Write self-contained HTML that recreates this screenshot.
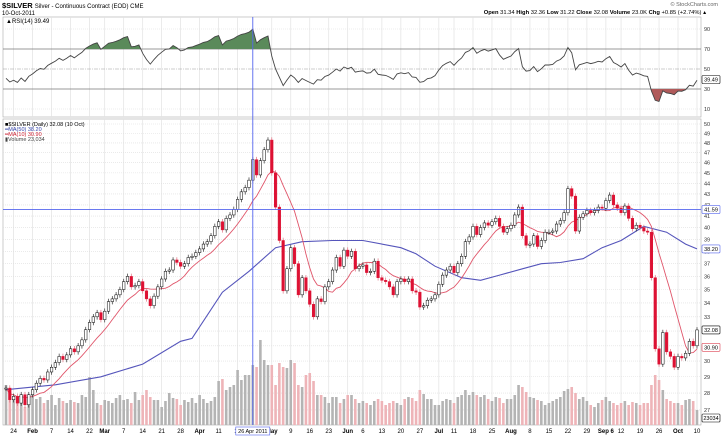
<!DOCTYPE html>
<html><head><meta charset="utf-8"><style>
html,body{margin:0;padding:0;background:#fff;}
svg{display:block;font-family:"Liberation Sans",sans-serif;}
</style></head><body>
<svg id="chart" width="721" height="436" viewBox="0 0 721 436" xmlns="http://www.w3.org/2000/svg">
<text x="2" y="8" font-size="7.5" font-weight="bold" fill="#000">$SILVER <tspan font-weight="normal" font-size="6">Silver - Continuous Contract (EOD) CME</tspan></text>
<text x="2" y="15" font-size="6" fill="#000">10-Oct-2011</text>
<text x="718" y="6" font-size="5.5" fill="#666" text-anchor="end">© StockCharts.com</text>
<text x="706" y="14" font-size="5.8" fill="#000" text-anchor="end"><tspan font-weight="bold">Open</tspan> 31.34 <tspan font-weight="bold">High</tspan> 32.36 <tspan font-weight="bold">Low</tspan> 31.22 <tspan font-weight="bold">Close</tspan> 32.08 <tspan font-weight="bold">Volume</tspan> 23.0K <tspan font-weight="bold">Chg</tspan> +0.85 (+2.74%) ▴</text>
<g id="rsiG"></g>
<g id="priceG"></g>
</svg>
<script>
const closes=[28.3,27.6,
27.8,27.4,27.9,27.3,27.9, 28.2,28.6,28.9,28.8,29.3, 29.6,29.9,30.3,30.1,30.4, 30.8,30.6,31.0,31.4,32.1, 32.6,33.0,33.3,32.8,
33.4,34.1,34.3,34.6,35.0, 35.6,36.0,35.2,35.3,35.6, 34.9,34.3,33.8,34.5,35.2, 35.8,36.4,36.5,37.3,37.1, 36.8,37.0,37.5,37.6,37.9,
38.2,38.6,38.8,39.3,40.1, 40.5,39.8,40.8,41.1,41.6, 42.5,43.2,43.6,44.3, 46.3,44.8,46.2,47.3,48.3,
45.0,41.8,38.9,34.9,36.6, 38.3,37.0,34.6,35.9,34.9, 33.9,33.0,34.3,34.1,35.2, 35.6,36.5,37.5,36.8,38.1, 37.6,38.0,36.6,36.8,
36.9,36.3,36.4,37.2,35.9, 35.7,35.6,35.2,34.6,35.6, 35.8,35.6,35.8,34.9,34.8, 33.7,33.8,34.2,34.3,34.6,
35.4,36.1,36.5,36.8, 36.3,37.0,37.6,38.8,39.2, 40.1,39.4,40.0,40.4,40.2, 40.5,40.8,40.1,39.6,39.9,
40.2,41.1,41.8,39.3,38.5, 38.6,39.3,38.4,38.9,39.6, 39.6,39.7,40.3,40.6,41.3, 43.5,42.8,39.7,40.9,41.2, 41.5,41.3,41.5,41.8,41.7,
42.4,42.9,42.0,41.7, 41.3,41.9,40.8,39.9,40.2, 40.0,39.7,39.6,35.9,30.8, 29.8,31.9,30.6,30.3,29.6, 30.3,30.2,30.5,31.3,31.0, 32.08];
const volumes=[40,30, 26,22,25,18,25, 30,26,28,22,25, 30,20,27,24,22, 25,23,22,30,28, 48,35,22,20,
25,24,22,27,30, 25,26,22,33,25, 30,35,28,25,25, 18,24,32,27,26, 20,25,23,27,22,
30,26,22,24,28, 44,46,35,38,40, 55,45,50,50, 60,58,85,65,60,
60,40,62,58,57, 65,62,40,38,50, 52,44,30,30,28, 22,28,28,22,26, 30,30,26,22,
24,22,20,24,26, 24,20,22,24,22, 20,26,28,27,24, 35,31,26,26,20,
20,24,26,25, 22,28,30,35,30, 33,30,28,30,26, 24,28,27,22,26,
26,30,40,38,33, 28,27,25,24,20, 22,24,26,28,34, 36,38,32,26,28, 24,20,18,22,25,
28,24,22,20, 22,24,20,23,22, 20,22,22,40,50, 45,35,26,24,22, 22,20,25,26,24, 15];
const ma50Idx=[0,13,25,36,46,49,57,64,71,78,86,94,104,108,113,120,125,130,136,141,146,152,157,162,166,168,174,179,182];
const ma50Val=[28.2,28.5,29.0,29.8,31.3,31.5,34.8,36.4,38.3,38.8,38.9,38.9,38.3,37.8,36.8,35.9,35.7,36.1,36.6,37.0,37.1,37.4,38.3,38.9,39.7,40.1,39.6,38.6,38.2];
const priceTicks=[27,28,29,30,31,32,33,34,35,36,37,38,39,40,41,42,43,44,45,46,47,48,49,50];
const rsiTicks=[90,70,50,30,10];
const dateLabels=["24","Feb","7","14","22","Mar","7","14","21","28","Apr","11","18","May","9","16","23","Jun","6","13","20","27","Jul","11","18","25","Aug","8","15","22","29","Sep 6","12","19","26","Oct","10"];
const dateIdx=[2,7,12,17,22,26,31,36,41,46,51,56,61,70,75,80,85,90,94,99,104,109,114,118,123,128,133,138,143,148,153,158,162,167,172,177,182];
const markerIdx=65, hLineVal=41.59;
const rsiSeedGain=0.22, rsiSeedLoss=0.32;

const NS="http://www.w3.org/2000/svg";
const X0=6,X1=697,N=closes.length;
const xs=i=>X0+i*(X1-X0)/(N-1);
const yp=v=>124+464*Math.log(50/v);
const yr=v=>119-v;
const yv=v=>425-v;
const PL=3,PR=701,PT=119,PB=425,RT=17,RB=117;
function el(tag,attrs,parent){const e=document.createElementNS(NS,tag);for(const k in attrs)e.setAttribute(k,attrs[k]);parent.appendChild(e);return e;}
const rg=document.getElementById('rsiG'),pg=document.getElementById('priceG');

let r=el('rect',{x:PL,y:RT,width:PR-PL,height:RB-RT,fill:'#fff',stroke:'#aaa','stroke-width':0.6},rg);

r=el('rect',{x:PL,y:PT,width:PR-PL,height:PB-PT,fill:'#fff',stroke:'#aaa','stroke-width':0.6},pg);


dateIdx.forEach((di,k)=>{const x=xs(di);
 let g=el('line',{x1:x,x2:x,y1:RT,y2:RB,stroke:'#e2e2e2','stroke-width':0.7},rg);
 
 g=el('line',{x1:x,x2:x,y1:PT,y2:PB,stroke:'#e2e2e2','stroke-width':0.7},pg);
 
 const lab=dateLabels[k];const bold=isNaN(parseInt(lab));
 const t=el('text',{x:x,y:433,'font-size':6,'text-anchor':'middle','font-weight':bold?'bold':'normal',fill:'#000'},pg);
 t.textContent=lab;
 
});
priceTicks.forEach(v=>{const y=yp(v);
 let g=el('line',{x1:PL,x2:PR,y1:y,y2:y,stroke:'#ddd','stroke-width':0.6,'stroke-dasharray':'1,1'},pg);
 
 const t=el('text',{x:704,y:y+2,'font-size':5.5,fill:'#333'},pg);t.textContent=v;
 
});
rsiTicks.forEach(v=>{const y=yr(v);const solid=(v===70||v===30);const mid=v===50;
 let g=el('line',{x1:PL,x2:PR,y1:y,y2:y,stroke:solid?'#777':(mid?'#999':'#ddd'),'stroke-width':solid?0.8:0.6,'stroke-dasharray':solid?'':(mid?'4,1,1,1':'1,1')},rg);
 
 const t=el('text',{x:704,y:y+2,'font-size':5.5,fill:'#333'},rg);t.textContent=v;
 
});

// RSI (Wilder 14) with seeded averages
const rsi=[];let ag=rsiSeedGain,al=rsiSeedLoss;
for(let i=0;i<N;i++){
 if(i>0){const d=closes[i]-closes[i-1];ag=(ag*13+Math.max(d,0))/14;al=(al*13+Math.max(-d,0))/14;}
 rsi.push(al===0?100:100-100/(1+ag/al));
}
const defs=el('defs',{},rg);
let cp=el('clipPath',{id:'above70'},defs);el('rect',{x:PL,y:RT,width:PR-PL,height:yr(70)-RT},cp);
cp=el('clipPath',{id:'below30'},defs);el('rect',{x:PL,y:yr(30),width:PR-PL,height:RB-yr(30)},cp);
const rpts=rsi.map((v,i)=>xs(i).toFixed(1)+','+yr(v).toFixed(1));
let f=el('polygon',{points:xs(0)+','+yr(70)+' '+rpts.join(' ')+' '+xs(N-1)+','+yr(70),fill:'#5a8a5a','clip-path':'url(#above70)'},rg);

f=el('polygon',{points:xs(0)+','+yr(30)+' '+rpts.join(' ')+' '+xs(N-1)+','+yr(30),fill:'#b05a5a','clip-path':'url(#below30)'},rg);

let ln=el('polyline',{points:rpts.join(' '),fill:'none',stroke:'#444','stroke-width':0.9},rg);

let tl=el('text',{x:6,y:23,'font-size':6,fill:'#000'},rg);tl.textContent='▲RSI(14) 39.49';


const bw=2.6;
volumes.forEach((v,i)=>{const up=i===0||closes[i]>=closes[i-1];
 const b=el('rect',{x:xs(i)-bw/2,y:yv(v),width:bw,height:v,fill:up?'#b4b4b4':'#eeb4b8'},pg);
 
});
ln=el('polyline',{points:ma50Idx.map((d,k)=>xs(d).toFixed(1)+','+yp(ma50Val[k]).toFixed(1)).join(' '),fill:'none',stroke:'#5555bb','stroke-width':1.1},pg);

const ma10=closes.map((c,i)=>{const s=closes.slice(Math.max(0,i-9),i+1);return s.reduce((a,b)=>a+b,0)/s.length;});
ln=el('polyline',{points:ma10.map((v,i)=>xs(i).toFixed(1)+','+yp(v).toFixed(1)).join(' '),fill:'none',stroke:'#e0556a','stroke-width':0.9},pg);

closes.forEach((c,i)=>{const o=i===0?c:closes[i-1];const hi=Math.max(o,c)*1.006,lo=Math.min(o,c)*0.994;
 const down=c<o;const col=down?'#dd1133':'#000';const x=xs(i);
 const w=el('line',{x1:x,x2:x,y1:yp(hi),y2:yp(lo),stroke:down?'#e07080':'#333','stroke-width':0.7},pg);
 
 const y1=yp(Math.max(o,c)),y2=yp(Math.min(o,c));
 const b=el('rect',{x:x-1.3,y:y1,width:2.6,height:Math.max(1,y2-y1),fill:down?'#dd1133':'#fff',stroke:col,'stroke-width':0.5},pg);
 
});
const mx=xs(markerIdx);
ln=el('line',{x1:mx,x2:mx,y1:RT,y2:PB,stroke:'#5566ee','stroke-width':0.9},pg);

ln=el('line',{x1:PL,x2:PR,y1:yp(hLineVal),y2:yp(hLineVal),stroke:'#5566ee','stroke-width':0.9},pg);

let bx=el('rect',{x:mx-17,y:427,width:34,height:8,fill:'#fff',stroke:'#5566ee','stroke-width':0.6},pg);

let bt=el('text',{x:mx,y:433,'font-size':5.5,'text-anchor':'middle',fill:'#000'},pg);bt.textContent='26 Apr 2011';

[[hLineVal.toFixed(2),yp(hLineVal),'#5566ee'],['38.20',yp(38.2),'#5566ee'],['32.08',yp(32.08),'#000'],['30.90',yp(30.9),'#dd4455'],['39.49',yr(39.49),'#000'],['23034',418,'#000']].forEach(a=>{
 const bb=el('rect',{x:702,y:a[1]-4,width:18,height:8,fill:'#fff',stroke:a[2],'stroke-width':0.6,rx:1},pg);
 
 const tt=el('text',{x:711,y:a[1]+2,'font-size':5.5,'text-anchor':'middle',fill:'#000'},pg);tt.textContent=a[0];
 
});
[['■$SILVER (Daily) 32.08 (10 Oct)','#000',126],['━MA(50) 38.20','#3344aa',131],['━MA(10) 30.90','#cc2233',136],['▮Volume 23,034','#444',141]].forEach((a,k)=>{
 const t=el('text',{x:5,y:a[2],'font-size':5.5,fill:a[1]},pg);t.textContent=a[0];
 
});
</script>
</body></html>
